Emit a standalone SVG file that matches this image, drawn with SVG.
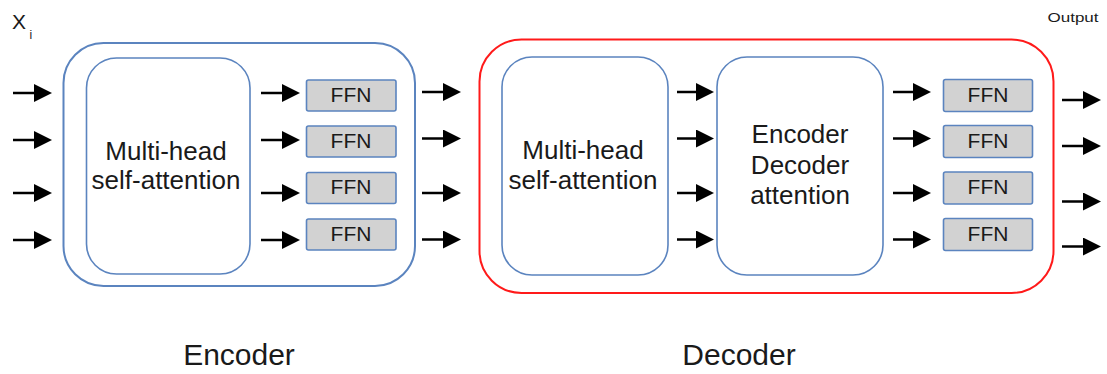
<svg xmlns="http://www.w3.org/2000/svg" width="1107" height="374" viewBox="0 0 1107 374">
<defs>
<marker id="ah" viewBox="0 0 18 18" refX="9" refY="9" markerWidth="18" markerHeight="18" markerUnits="userSpaceOnUse" orient="auto">
<path d="M0,0 L18,9 L0,18 Z" fill="#000"/>
</marker>
</defs>
<style>
text{font-family:"Liberation Sans",Arial,sans-serif;fill:#1a1a1a}
.outer{fill:none;stroke-width:2}
.inner{fill:#fff;stroke:#5b84bf;stroke-width:1.6}
.ffn{fill:#d2d2d2;stroke:#5b84bf;stroke-width:1.6}
.ffnt{font-size:21px;text-anchor:middle}
.big{font-size:26px;text-anchor:middle}
.lbl{font-size:30px;text-anchor:middle}
.arr line{stroke:#000;stroke-width:2.5;marker-end:url(#ah)}
</style>
<rect width="1107" height="374" fill="#fff"/>

<g id="input-label">
<text x="12" y="28.5" style="font-size:21px">X</text>
<text x="29.5" y="38.5" style="font-size:12px">i</text>
</g>
<text x="1073" y="22" style="font-size:13.5px;text-anchor:middle" textLength="51" lengthAdjust="spacingAndGlyphs">Output</text>

<g id="encoder">
<rect class="outer" x="63.5" y="43" width="351.5" height="243" rx="40" stroke="#5b84bf"/>
<text class="lbl" x="239" y="365">Encoder</text>
</g>
<g id="enc-mhsa">
<rect class="inner" x="86.5" y="58" width="163.5" height="216" rx="30"/>
<text class="big" x="166" y="160">Multi-head</text>
<text class="big" x="166" y="188.5">self-attention</text>
</g>
<g id="enc-ffn1"><rect class="ffn" x="306.5" y="80" width="89.5" height="31" rx="2"/><text class="ffnt" x="351" y="101.5">FFN</text></g>
<g id="enc-ffn2"><rect class="ffn" x="306.5" y="126" width="89.5" height="31" rx="2"/><text class="ffnt" x="351" y="147.5">FFN</text></g>
<g id="enc-ffn3"><rect class="ffn" x="306.5" y="172.5" width="89.5" height="31" rx="2"/><text class="ffnt" x="351" y="194">FFN</text></g>
<g id="enc-ffn4"><rect class="ffn" x="306.5" y="219" width="89.5" height="31" rx="2"/><text class="ffnt" x="351" y="240.5">FFN</text></g>

<g id="decoder">
<rect class="outer" x="479.5" y="39.5" width="574" height="253.5" rx="42" stroke="#ff1a1a"/>
<text class="lbl" x="739" y="365">Decoder</text>
</g>
<g id="dec-mhsa">
<rect class="inner" x="502" y="57" width="166" height="218" rx="30"/>
<text class="big" x="583" y="158.5">Multi-head</text>
<text class="big" x="583" y="188.5">self-attention</text>
</g>
<g id="dec-eda">
<rect class="inner" x="717" y="57" width="166" height="218" rx="30"/>
<text class="big" x="800" y="143">Encoder</text>
<text class="big" x="800" y="173.5">Decoder</text>
<text class="big" x="800" y="204">attention</text>
</g>
<g id="dec-ffn1"><rect class="ffn" x="943.5" y="79.5" width="89" height="32" rx="2"/><text class="ffnt" x="988" y="101.5">FFN</text></g>
<g id="dec-ffn2"><rect class="ffn" x="943.5" y="125.5" width="89" height="32" rx="2"/><text class="ffnt" x="988" y="147.5">FFN</text></g>
<g id="dec-ffn3"><rect class="ffn" x="943.5" y="172" width="89" height="32" rx="2"/><text class="ffnt" x="988" y="194">FFN</text></g>
<g id="dec-ffn4"><rect class="ffn" x="943.5" y="218.5" width="89" height="32" rx="2"/><text class="ffnt" x="988" y="240.5">FFN</text></g>

<g id="connectors" class="arr">
<line x1="13" y1="93" x2="43" y2="93"/>
<line x1="13" y1="140" x2="43" y2="140"/>
<line x1="13" y1="193" x2="43" y2="193"/>
<line x1="13" y1="240" x2="43" y2="240"/>

<line x1="261" y1="93" x2="291" y2="93"/>
<line x1="261" y1="140" x2="291" y2="140"/>
<line x1="261" y1="193" x2="291" y2="193"/>
<line x1="261" y1="240" x2="291" y2="240"/>

<line x1="422" y1="92" x2="452" y2="92"/>
<line x1="422" y1="138.5" x2="452" y2="138.5"/>
<line x1="422" y1="193" x2="452" y2="193"/>
<line x1="422" y1="239.5" x2="452" y2="239.5"/>

<line x1="677" y1="92" x2="705" y2="92"/>
<line x1="677" y1="138.5" x2="705" y2="138.5"/>
<line x1="677" y1="193" x2="705" y2="193"/>
<line x1="677" y1="239.5" x2="705" y2="239.5"/>

<line x1="893" y1="92" x2="922" y2="92"/>
<line x1="893" y1="138.5" x2="922" y2="138.5"/>
<line x1="893" y1="193" x2="922" y2="193"/>
<line x1="893" y1="239.5" x2="922" y2="239.5"/>

<line x1="1062" y1="100" x2="1092" y2="100"/>
<line x1="1062" y1="146" x2="1092" y2="146"/>
<line x1="1062" y1="201.5" x2="1092" y2="201.5"/>
<line x1="1062" y1="246.5" x2="1092" y2="246.5"/>
</g>
</svg>
